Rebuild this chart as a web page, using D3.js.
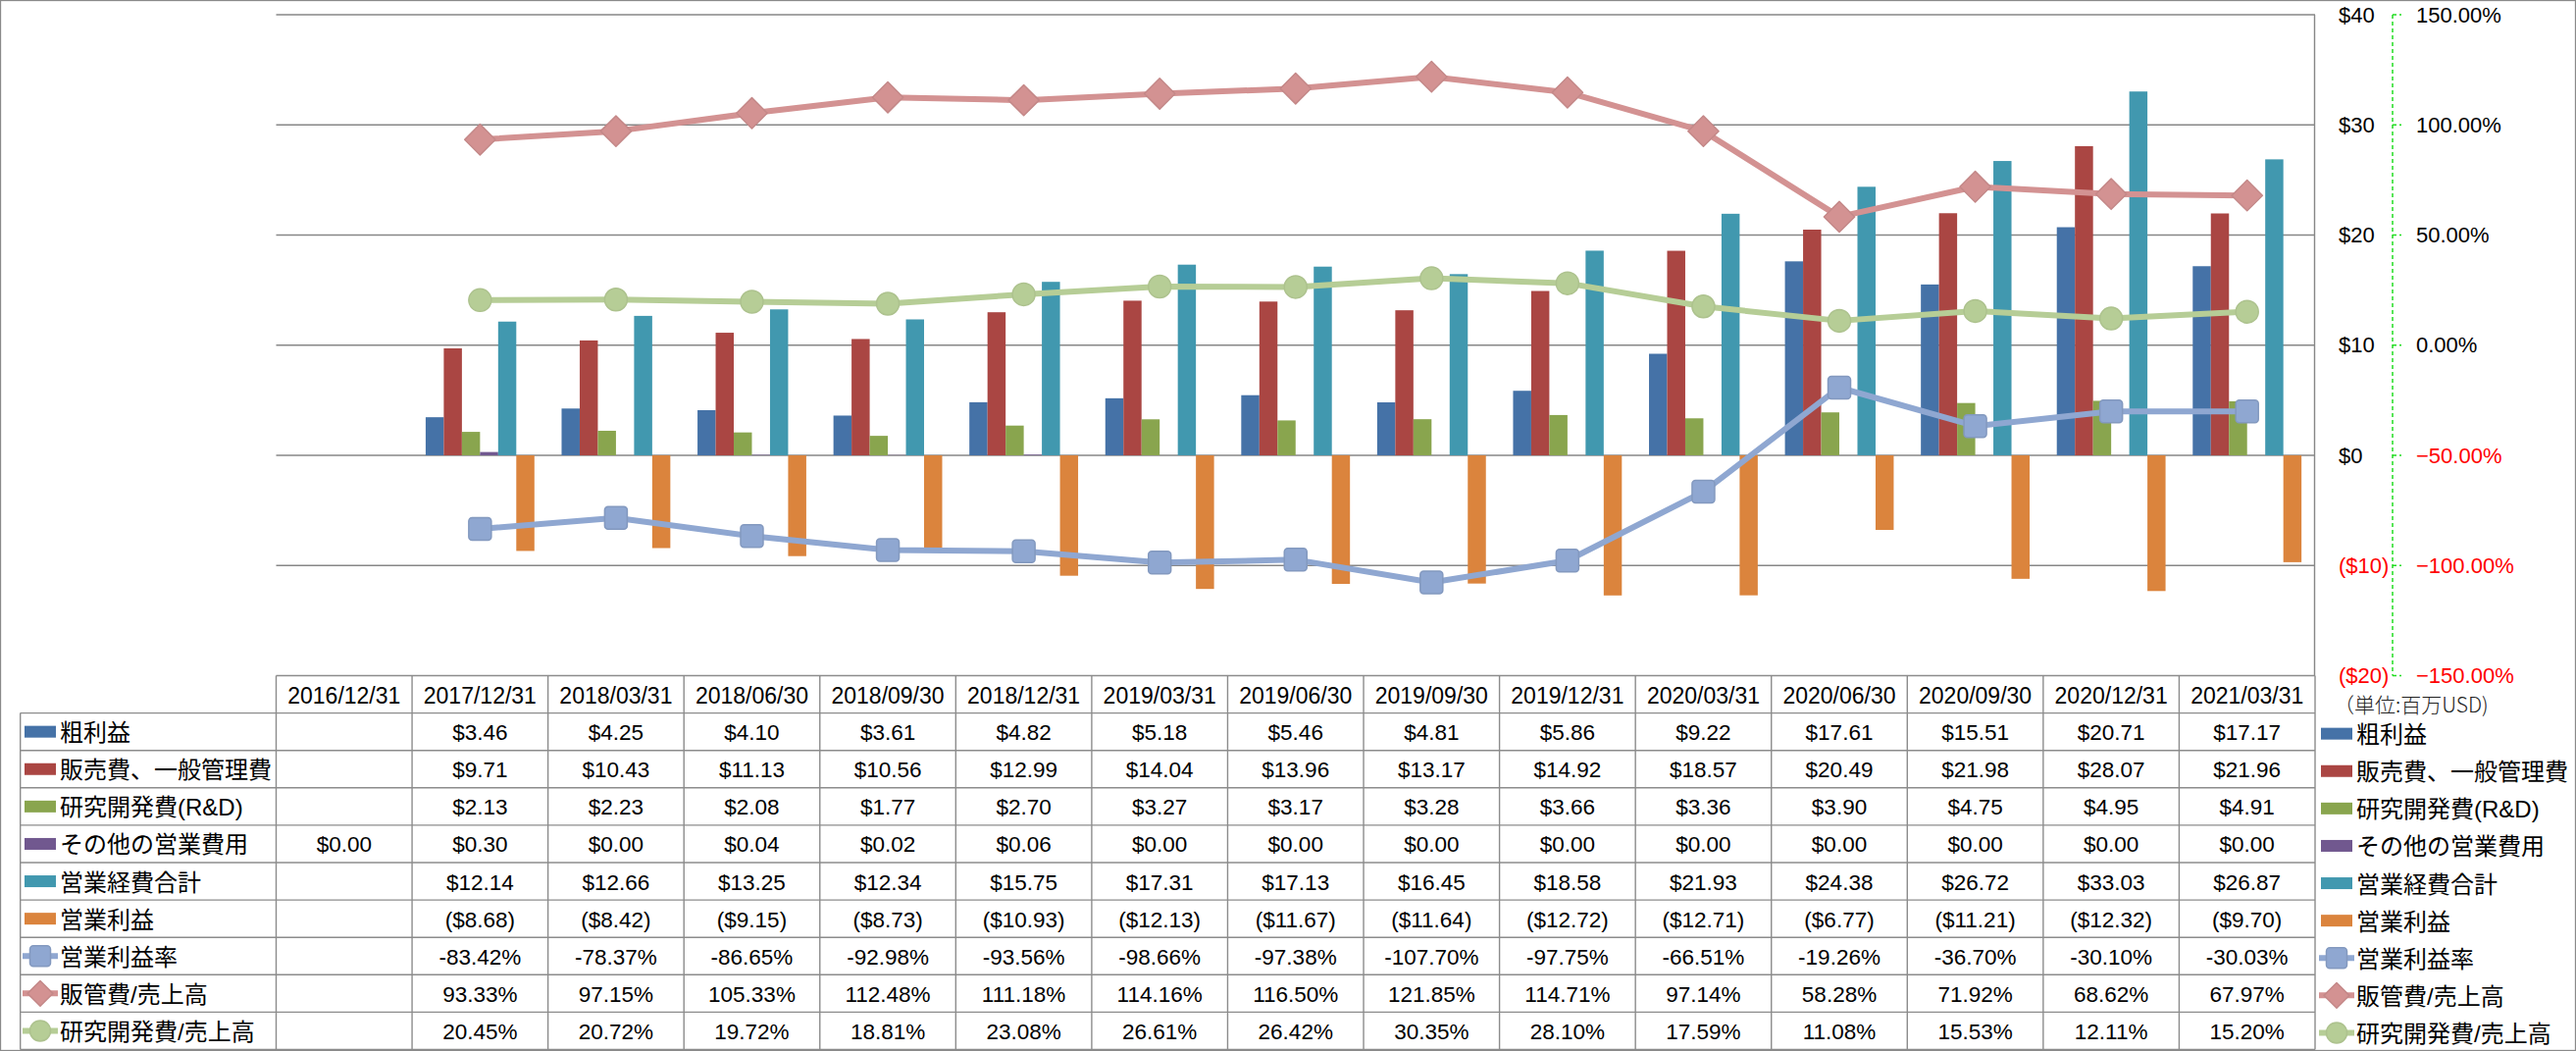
<!DOCTYPE html>
<html><head><meta charset="utf-8">
<script src="https://cdn.jsdelivr.net/npm/d3@7"></script>
<style>body{margin:0;background:#fff}svg{display:block}</style>
</head><body>
<svg id="c" width="2626" height="1071"></svg>
<script>
const categories = ["2016/12/31","2017/12/31","2018/03/31","2018/06/30","2018/09/30","2018/12/31","2019/03/31","2019/06/30","2019/09/30","2019/12/31","2020/03/31","2020/06/30","2020/09/30","2020/12/31","2021/03/31"];
const grossProfit = [null,3.46,4.25,4.10,3.61,4.82,5.18,5.46,4.81,5.86,9.22,17.61,15.51,20.71,17.17];
const sgaExpense = [null,9.71,10.43,11.13,10.56,12.99,14.04,13.96,13.17,14.92,18.57,20.49,21.98,28.07,21.96];
const rdExpense = [null,2.13,2.23,2.08,1.77,2.70,3.27,3.17,3.28,3.66,3.36,3.90,4.75,4.95,4.91];
const otherExpense = [0.00,0.30,0.00,0.04,0.02,0.06,0.00,0.00,0.00,0.00,0.00,0.00,0.00,0.00,0.00];
const totalExpense = [null,12.14,12.66,13.25,12.34,15.75,17.31,17.13,16.45,18.58,21.93,24.38,26.72,33.03,26.87];
const operatingIncome = [null,-8.68,-8.42,-9.15,-8.73,-10.93,-12.13,-11.67,-11.64,-12.72,-12.71,-6.77,-11.21,-12.32,-9.70];
const operatingMargin = [null,-83.42,-78.37,-86.65,-92.98,-93.56,-98.66,-97.38,-107.70,-97.75,-66.51,-19.26,-36.70,-30.10,-30.03];
const sgaRatio = [null,93.33,97.15,105.33,112.48,111.18,114.16,116.50,121.85,114.71,97.14,58.28,71.92,68.62,67.97];
const rdRatio = [null,20.45,20.72,19.72,18.81,23.08,26.61,26.42,30.35,28.10,17.59,11.08,15.53,12.11,15.20];

const barNames = ["粗利益","販売費、一般管理費","研究開発費(R&D)","その他の営業費用","営業経費合計","営業利益"];
const barColors = ["#4572A7","#AA4643","#89A54E","#71588F","#4198AF","#DB843D"];
const lineNames = ["営業利益率","販管費/売上高","研究開発費/売上高"];
const lineColors = ["#8FA7D1","#D39292","#B6CD96"];
const lineMarkers = ["square","diamond","circle"];
const unitLabel = "（単位:百万USD)";

const barSeries = [grossProfit,sgaExpense,rdExpense,otherExpense,totalExpense,operatingIncome];
const lineSeries = [operatingMargin,sgaRatio,rdRatio];

const svg = d3.select("#c");
const FONT = "'Liberation Sans','Noto Sans CJK JP',sans-serif";
const W = 2626, H = 1071;
const plotL = 281.5, plotR = 2360, plotT = 15, plotB = 688.5;
const rowH = 38.1, tableTop = 688.5, legendColL = 20.7;

svg.append("rect").attr("x",0.5).attr("y",0.5).attr("width",W-1).attr("height",H-1)
  .attr("fill","#fff").attr("stroke","#8a8a8a").attr("stroke-width",1.3);

const x = d3.scaleBand().domain(categories).range([plotL,plotR]).padding(0);
const xs = d3.scaleBand().domain(d3.range(barNames.length)).range([0,x.bandwidth()]).paddingInner(0).paddingOuter(0.75);
const y = d3.scaleLinear().domain([-20,40]).range([plotB,plotT]);
const y2 = d3.scaleLinear().domain([-150,150]).range([plotB,plotT]);

// gridlines
const gridTicks = y.ticks(6);
svg.append("g").selectAll("line").data(gridTicks.filter(t=>t>-20)).join("line")
  .attr("x1",plotL).attr("x2",plotR).attr("y1",d=>y(d)).attr("y2",d=>y(d))
  .attr("stroke","#878787").attr("stroke-width",1.4);
svg.append("line").attr("x1",plotR-0.5).attr("x2",plotR-0.5).attr("y1",plotT).attr("y2",plotB)
  .attr("stroke","#878787").attr("stroke-width",1.4);

// bars
const bars = svg.append("g");
barSeries.forEach((vals,si)=>{
  bars.append("g").selectAll("rect").data(categories.map((c,i)=>({c,v:vals[i]})).filter(d=>d.v!==null)).join("rect")
    .attr("x",d=>x(d.c)+xs(si)).attr("width",xs.bandwidth())
    .attr("y",d=>y(Math.max(0,d.v))).attr("height",d=>Math.abs(y(d.v)-y(0)))
    .attr("fill",barColors[si]);
});

// markers
function drawMarker(g,type,cx,cy,color,size){
  if(type==="square"){
    g.append("rect").attr("x",cx-size/2).attr("y",cy-size/2).attr("width",size).attr("height",size)
      .attr("rx",3.5).attr("fill",color).attr("stroke",d3.color(color).darker(0.25)).attr("stroke-width",1.5);
  } else if(type==="diamond"){
    const h = size*0.68;
    g.append("path").attr("d",`M${cx},${cy-h}L${cx+h},${cy}L${cx},${cy+h}L${cx-h},${cy}Z`)
      .attr("fill",color).attr("stroke",d3.color(color).darker(0.2)).attr("stroke-width",1.5).attr("stroke-linejoin","round");
  } else {
    g.append("circle").attr("cx",cx).attr("cy",cy).attr("r",size/2)
      .attr("fill",color).attr("stroke",d3.color(color).darker(0.15)).attr("stroke-width",1.5);
  }
}

// lines
const lines = svg.append("g");
lineSeries.forEach((vals,si)=>{
  const pts = categories.map((c,i)=>({c,v:vals[i]})).filter(d=>d.v!==null);
  const gen = d3.line().x(d=>x(d.c)+x.bandwidth()/2).y(d=>y2(d.v));
  lines.append("path").attr("d",gen(pts)).attr("fill","none").attr("stroke",lineColors[si])
    .attr("stroke-width",6).attr("stroke-linejoin","round");
});
lineSeries.forEach((vals,si)=>{
  const g = lines.append("g");
  categories.forEach((c,i)=>{ if(vals[i]!==null) drawMarker(g,lineMarkers[si],x(c)+x.bandwidth()/2,y2(vals[i]),lineColors[si],23); });
});

// right axes
const ax = svg.append("g").attr("font-family",FONT).attr("font-size",22);
const fmtDollarAxis = v => v<0 ? `($${Math.abs(v)})` : `$${v}`;
ax.selectAll("text.d").data(y.ticks(6)).join("text").attr("class","d")
  .attr("x",2384).attr("y",d=>y(d)).attr("dominant-baseline","central")
  .attr("fill",d=>d<0?"#FF0000":"#000").text(fmtDollarAxis);
ax.append("line").attr("x1",2439).attr("x2",2439).attr("y1",plotT).attr("y2",plotB)
  .attr("stroke","#22dd22").attr("stroke-width",1.5).attr("stroke-dasharray","4,3");
ax.selectAll("line.t").data(y2.ticks(6)).join("line").attr("class","t")
  .attr("x1",2439).attr("x2",2448).attr("y1",d=>y2(d)).attr("y2",d=>y2(d))
  .attr("stroke","#22dd22").attr("stroke-width",1.5).attr("stroke-dasharray","4,3");
ax.selectAll("text.p").data(y2.ticks(6)).join("text").attr("class","p")
  .attr("x",2463).attr("y",d=>y2(d)).attr("dominant-baseline","central")
  .attr("fill",d=>d<0?"#FF0000":"#000").text(d=>d3.format(".2f")(d)+"%");
svg.append("text").attr("x",2379).attr("y",717).attr("dominant-baseline","central")
  .attr("font-family","'Noto Sans CJK JP',sans-serif").attr("font-size",21).attr("font-weight",300)
  .attr("fill","#222").text(unitLabel);

// data table
const tbl = svg.append("g").attr("font-family",FONT);
const gridC = "#8c8c8c";
const nRows = barNames.length + lineNames.length;
const tableBottom = tableTop + rowH*(nRows+1);
tbl.append("line").attr("x1",plotL).attr("x2",plotR).attr("y1",tableTop).attr("y2",tableTop).attr("stroke",gridC).attr("stroke-width",1.4);
for(let r=1;r<=nRows+1;r++){
  const yy = tableTop + r*rowH;
  tbl.append("line").attr("x1",legendColL).attr("x2",plotR).attr("y1",yy).attr("y2",yy).attr("stroke",gridC).attr("stroke-width",1.4);
}
tbl.append("line").attr("x1",legendColL).attr("x2",legendColL).attr("y1",tableTop+rowH).attr("y2",tableBottom).attr("stroke",gridC).attr("stroke-width",1.4);
categories.concat([null]).forEach((c,i)=>{
  const xx = c===null ? plotR : x(c);
  tbl.append("line").attr("x1",xx).attr("x2",xx).attr("y1",tableTop).attr("y2",tableBottom).attr("stroke",gridC).attr("stroke-width",1.4);
});
tbl.selectAll("text.h").data(categories).join("text").attr("class","h")
  .attr("x",d=>x(d)+x.bandwidth()/2).attr("y",tableTop+rowH/2+1)
  .attr("text-anchor","middle").attr("dominant-baseline","central").attr("font-size",23).text(d=>d);

const fmtDollar = v => v<0 ? `($${Math.abs(v).toFixed(2)})` : `$${v.toFixed(2)}`;
const fmtPct = v => `${v.toFixed(2)}%`;
const allSeries = barSeries.map((s,i)=>({name:barNames[i],vals:s,fmt:fmtDollar,kind:"bar",color:barColors[i]}))
  .concat(lineSeries.map((s,i)=>({name:lineNames[i],vals:s,fmt:fmtPct,kind:lineMarkers[i],color:lineColors[i]})));

function legendSymbol(g,s,x0,cy){
  if(s.kind==="bar"){
    g.append("rect").attr("x",x0).attr("y",cy-6).attr("width",32).attr("height",12).attr("fill",s.color);
  } else {
    g.append("line").attr("x1",x0-2).attr("x2",x0+34).attr("y1",cy).attr("y2",cy).attr("stroke",s.color).attr("stroke-width",6);
    drawMarker(g,s.kind,x0+16,cy,s.color,s.kind==="diamond"?19:21);
  }
}

allSeries.forEach((s,r)=>{
  const cy = tableTop + (r+1)*rowH + rowH/2;
  legendSymbol(tbl,s,25,cy);
  tbl.append("text").attr("x",61).attr("y",cy+1).attr("dominant-baseline","central").attr("font-size",24).text(s.name);
  categories.forEach((c,i)=>{
    if(s.vals[i]===null) return;
    tbl.append("text").attr("x",x(c)+x.bandwidth()/2).attr("y",cy+1).attr("text-anchor","middle")
      .attr("dominant-baseline","central").attr("font-size",22.5).text(s.fmt(s.vals[i]));
  });
  legendSymbol(tbl,s,2366,cy+2);
  tbl.append("text").attr("x",2402).attr("y",cy+3).attr("dominant-baseline","central").attr("font-size",24).text(s.name);
});
</script>
</body></html>
